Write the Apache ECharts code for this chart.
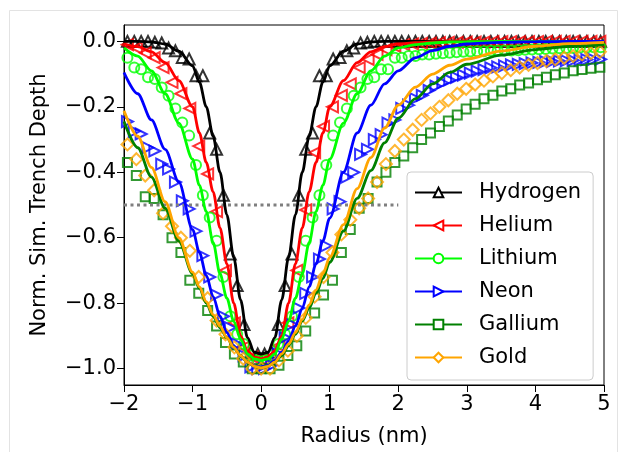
<!DOCTYPE html>
<html>
<head>
<meta charset="utf-8">
<script src="https://cdn.jsdelivr.net/npm/echarts@6/dist/echarts.min.js"></script>
<style>
html, body { margin: 0; padding: 0; background: #fff; }
#chart { width: 618px; height: 452px; }
</style>
</head>
<body>
<div id="chart"></div>
<script>
const NAMES  = ['Hydrogen', 'Helium', 'Lithium', 'Neon', 'Gallium', 'Gold'];
const COLORS = ['#000000', '#ff0000', '#00ff00', '#0000ff', '#008000', '#ffa500'];

// fitted curves, sampled at FIT_X
const FIT_X = [-2, -1.8, -1.6, -1.4, -1.2, -1.0, -0.9, -0.8, -0.7, -0.6, -0.5, -0.4, -0.3, -0.2, -0.1, 0,
  0.1, 0.2, 0.3, 0.4, 0.5, 0.6, 0.7, 0.8, 0.9, 1.0, 1.2, 1.4, 1.6, 1.8, 2.0, 2.25, 2.5, 2.75, 3.0, 3.5, 4.0, 4.5, 5.0];
const H_FIT  = [0, 0, -0.002, -0.008, -0.03, -0.075, -0.125, -0.2, -0.29, -0.4, -0.53, -0.66, -0.79, -0.905, -0.95, -0.955,
  -0.95, -0.905, -0.79, -0.66, -0.53, -0.4, -0.29, -0.2, -0.125, -0.075, -0.03, -0.008, -0.002, 0, 0, 0, 0, 0, 0, 0, 0, 0, 0];
const HE_FIT = [-0.008, -0.016, -0.032, -0.065, -0.12, -0.2, -0.28, -0.37, -0.46, -0.57, -0.68, -0.8, -0.9, -0.945, -0.965, -0.97,
  -0.965, -0.945, -0.9, -0.8, -0.68, -0.57, -0.46, -0.37, -0.28, -0.2, -0.12, -0.065, -0.032, -0.016, -0.008, -0.004, -0.002, -0.001, -0.001, 0, 0, 0, 0];
const LI_FIT = [-0.02, -0.045, -0.09, -0.16, -0.25, -0.36, -0.44, -0.52, -0.615, -0.71, -0.785, -0.855, -0.91, -0.955, -0.97, -0.975,
  -0.97, -0.955, -0.91, -0.855, -0.785, -0.71, -0.615, -0.52, -0.44, -0.36, -0.25, -0.16, -0.09, -0.045, -0.02, -0.01, -0.005, -0.002, -0.001, 0, 0, 0, 0];
const NE_FIT = [-0.095, -0.16, -0.24, -0.33, -0.43, -0.575, -0.645, -0.715, -0.78, -0.84, -0.89, -0.93, -0.96, -0.98, -0.992, -0.995,
  -0.99, -0.975, -0.95, -0.915, -0.87, -0.815, -0.75, -0.68, -0.61, -0.54, -0.4, -0.28, -0.195, -0.13, -0.09, -0.05, -0.028, -0.015, -0.008, -0.003, -0.001, 0, 0];
const GA_FIT = [-0.245, -0.325, -0.415, -0.51, -0.61, -0.71, -0.755, -0.8, -0.84, -0.875, -0.905, -0.935, -0.96, -0.98, -0.993, -0.998,
  -0.993, -0.98, -0.96, -0.93, -0.895, -0.855, -0.815, -0.77, -0.725, -0.675, -0.58, -0.48, -0.395, -0.31, -0.235, -0.175, -0.13, -0.095, -0.07, -0.042, -0.025, -0.015, -0.01];
const AU_FIT = [-0.212, -0.29, -0.385, -0.49, -0.6, -0.705, -0.75, -0.795, -0.835, -0.87, -0.905, -0.935, -0.96, -0.98, -0.993, -0.998,
  -0.993, -0.98, -0.955, -0.925, -0.89, -0.85, -0.805, -0.76, -0.71, -0.66, -0.56, -0.45, -0.355, -0.265, -0.195, -0.14, -0.1, -0.073, -0.054, -0.03, -0.015, -0.007, -0.003];

// simulated points: two radial grids
const X_FINE = [-1.95, -1.85, -1.75, -1.65, -1.55, -1.45, -1.35, -1.25, -1.15, -1.05, -0.95, -0.85, -0.75, -0.65, -0.55, -0.45, -0.35, -0.25, -0.15, -0.05,
  0.05, 0.15, 0.25, 0.35, 0.45, 0.55, 0.65, 0.75, 0.85, 0.95, 1.05, 1.15, 1.25, 1.35, 1.45, 1.55, 1.65, 1.75, 1.85, 1.95,
  2.05, 2.15, 2.25, 2.35, 2.45, 2.55, 2.65, 2.75, 2.85, 2.95, 3.05, 3.15, 3.25, 3.35, 3.45, 3.55, 3.65, 3.75, 3.85, 3.95,
  4.05, 4.15, 4.25, 4.35, 4.45, 4.55, 4.65, 4.75, 4.85, 4.95];
const X_COARSE = [-1.95, -1.82, -1.69, -1.56, -1.43, -1.3, -1.17, -1.04, -0.91, -0.78, -0.65, -0.52, -0.39, -0.26, -0.13, 0,
  0.13, 0.26, 0.39, 0.52, 0.65, 0.78, 0.91, 1.04, 1.17, 1.3, 1.43, 1.56, 1.69, 1.82, 1.95, 2.08, 2.21, 2.34, 2.47, 2.6,
  2.73, 2.86, 2.99, 3.12, 3.25, 3.38, 3.51, 3.64, 3.77, 3.9, 4.03, 4.16, 4.29, 4.42, 4.55, 4.68, 4.81, 4.94];

const H_PTS = [0, 0, 0, 0, -0.003, -0.005, -0.02, -0.029, -0.049, -0.054, -0.105, -0.105, -0.28, -0.33, -0.47, -0.65, -0.746, -0.865, -0.95, -0.955,
  -0.955, -0.95, -0.865, -0.746, -0.65, -0.47, -0.33, -0.28, -0.105, -0.105, -0.054, -0.049, -0.029, -0.02, -0.005, -0.003, 0, 0, 0, 0,
  0, 0, 0, 0, 0, 0, 0, 0, 0, 0, 0, 0, 0, 0, 0, 0, 0, 0, 0, 0,
  0, 0, 0, 0, 0, 0, 0, 0, 0, 0];
const HE_PTS = [-0.01, -0.02, -0.035, -0.05, -0.08, -0.125, -0.16, -0.205, -0.32, -0.405, -0.52, -0.7, -0.86, -0.935, -0.965, -0.97,
  -0.965, -0.93, -0.86, -0.7, -0.515, -0.34, -0.26, -0.2, -0.165, -0.13, -0.08, -0.055, -0.04, -0.025, -0.015, -0.01, -0.008, -0.006, -0.005, -0.004,
  -0.003, -0.003, -0.002, -0.002, -0.002, -0.001, -0.001, -0.001, -0.001, -0.001, -0.001, 0, 0, 0, 0, 0, 0, 0];
const LI_PTS = [-0.05, -0.08, -0.085, -0.11, -0.115, -0.141, -0.166, -0.205, -0.248, -0.288, -0.378, -0.47, -0.538, -0.609, -0.72, -0.84, -0.895, -0.925, -0.96, -0.975,
  -0.975, -0.96, -0.925, -0.895, -0.84, -0.72, -0.609, -0.538, -0.47, -0.378, -0.288, -0.248, -0.205, -0.166, -0.141, -0.115, -0.11, -0.085, -0.085, -0.05,
  -0.05, -0.045, -0.045, -0.04, -0.04, -0.038, -0.036, -0.035, -0.033, -0.032, -0.031, -0.03, -0.03, -0.029, -0.029, -0.028, -0.028, -0.027, -0.026, -0.025,
  -0.024, -0.023, -0.022, -0.021, -0.02, -0.02, -0.019, -0.019, -0.018, -0.018];
const NE_PTS = [-0.245, -0.275, -0.283, -0.325, -0.335, -0.375, -0.39, -0.43, -0.487, -0.512, -0.58, -0.655, -0.72, -0.775, -0.84, -0.875, -0.925, -0.96, -0.995, -1.0,
  -1.0, -0.99, -0.955, -0.905, -0.865, -0.815, -0.77, -0.72, -0.665, -0.625, -0.512, -0.49, -0.415, -0.4, -0.345, -0.33, -0.3, -0.285, -0.25, -0.24,
  -0.205, -0.195, -0.175, -0.165, -0.15, -0.137, -0.127, -0.118, -0.11, -0.103, -0.097, -0.091, -0.086, -0.081, -0.078, -0.075, -0.072, -0.07, -0.068, -0.066,
  -0.064, -0.062, -0.061, -0.06, -0.059, -0.058, -0.057, -0.056, -0.055, -0.055];
const GA_PTS = [-0.37, -0.41, -0.475, -0.48, -0.53, -0.6, -0.645, -0.73, -0.77, -0.822, -0.87, -0.92, -0.955, -0.98, -1.0, -1.0,
  -1.0, -0.99, -0.96, -0.93, -0.885, -0.83, -0.775, -0.73, -0.645, -0.575, -0.51, -0.48, -0.43, -0.4, -0.37, -0.35, -0.325, -0.3, -0.28, -0.26,
  -0.243, -0.225, -0.207, -0.192, -0.175, -0.165, -0.152, -0.145, -0.133, -0.127, -0.117, -0.11, -0.102, -0.097, -0.09, -0.086, -0.082, -0.079];
const AU_PTS = [-0.315, -0.36, -0.41, -0.455, -0.525, -0.565, -0.6, -0.64, -0.72, -0.785, -0.853, -0.895, -0.935, -0.97, -1.0, -1.0,
  -1.0, -0.975, -0.945, -0.9, -0.845, -0.78, -0.72, -0.645, -0.59, -0.545, -0.51, -0.48, -0.43, -0.375, -0.335, -0.3, -0.27, -0.24, -0.22, -0.2,
  -0.18, -0.16, -0.145, -0.132, -0.12, -0.107, -0.097, -0.088, -0.08, -0.072, -0.066, -0.06, -0.055, -0.05, -0.045, -0.04, -0.036, -0.032];

const HALF_DEPTH = -0.5;
const Y_TICKS = [-1.0, -0.8, -0.6, -0.4, -0.2, 0.0];

const FITS = [H_FIT, HE_FIT, LI_FIT, NE_FIT, GA_FIT, AU_FIT];
const PTS = [H_PTS, HE_PTS, LI_PTS, NE_PTS, GA_PTS, AU_PTS];
const PTS_X = [X_FINE, X_COARSE, X_FINE, X_FINE, X_COARSE, X_COARSE];

const MARKERS = [
  { symbol: 'triangle', legend: 'emptyTriangle', rotate: 0, size: 11 },
  { symbol: 'triangle', legend: 'emptyTriangle', rotate: 90, size: 11 },
  { symbol: 'circle', legend: 'emptyCircle', rotate: 0, size: 10 },
  { symbol: 'triangle', legend: 'emptyTriangle', rotate: -90, size: 11 },
  { symbol: 'rect', legend: 'emptyRect', rotate: 0, size: 9 },
  { symbol: 'diamond', legend: 'emptyDiamond', rotate: 0, size: 12 },
];

const FONT = 'DejaVu Sans';
const zip = (xs, ys) => xs.map((x, i) => [x, ys[i]]);
const minus = s => s.replace('-', '\u2212');

const series = [{
  type: 'line',
  data: [[-2, HALF_DEPTH], [2, HALF_DEPTH]],
  symbol: 'none',
  silent: true,
  lineStyle: { color: '#7f7f7f', width: 3, type: [3, 3.5] },
}];

NAMES.forEach((name, i) => {
  const m = MARKERS[i];
  series.push({
    name,
    type: 'line',
    data: zip(FIT_X, FITS[i]),
    smooth: 0.3,
    smoothMonotone: 'x',
    showSymbol: false,
    symbol: m.legend,
    symbolRotate: m.rotate,
    symbolSize: 9,
    itemStyle: { color: COLORS[i] },
    lineStyle: { color: COLORS[i], width: 2.8 },
  });
  series.push({
    name,
    type: 'scatter',
    data: zip(PTS_X[i], PTS[i]),
    symbol: m.symbol,
    symbolRotate: m.rotate,
    symbolSize: m.size,
    itemStyle: { color: 'rgba(0,0,0,0)', borderColor: COLORS[i], borderWidth: 2 },
  });
});

const chart = echarts.init(document.getElementById('chart'));
chart.setOption({
  animation: false,
  backgroundColor: '#fff',
  textStyle: { fontFamily: FONT },
  graphic: [{
    type: 'rect',
    shape: { x: 9.5, y: 10.5, width: 608, height: 460 },
    style: { fill: 'none', stroke: '#e3e3e3', lineWidth: 1 },
    silent: true,
    z: -10,
  }],
  grid: { left: 124, top: 25, width: 480, height: 360, show: true, borderColor: '#000', borderWidth: 1 },
  legend: {
    data: NAMES,
    orient: 'vertical',
    left: 407,
    top: 172,
    padding: [10, 12, 12, 7],
    itemWidth: 47,
    itemHeight: 12,
    itemGap: 12,
    backgroundColor: 'rgba(255,255,255,0.8)',
    borderColor: '#cccccc',
    borderWidth: 1,
    borderRadius: 4,
    selectedMode: false,
    textStyle: { fontFamily: FONT, fontSize: 21, lineHeight: 20, color: '#000', padding: [0, 0, 0, 12] },
  },
  xAxis: {
    type: 'value',
    min: -2,
    max: 5,
    interval: 1,
    name: 'Radius (nm)',
    nameLocation: 'middle',
    nameGap: 41,
    nameTextStyle: { fontFamily: FONT, fontSize: 21, color: '#000' },
    axisLine: { show: true, onZero: false, lineStyle: { color: '#000', width: 1 } },
    axisTick: { show: true, length: 7, lineStyle: { color: '#000' } },
    axisLabel: { fontFamily: FONT, fontSize: 21, color: '#000', margin: 9, formatter: v => minus(String(v)) },
    splitLine: { show: false },
  },
  yAxis: {
    type: 'value',
    min: -1.05,
    max: 0.05,
    name: 'Norm. Sim. Trench Depth',
    nameLocation: 'middle',
    nameGap: 74,
    nameTextStyle: { fontFamily: FONT, fontSize: 21, color: '#000' },
    axisLine: { show: true, onZero: false, lineStyle: { color: '#000', width: 1 } },
    axisTick: { show: true, length: 7, customValues: Y_TICKS, lineStyle: { color: '#000' } },
    axisLabel: { fontFamily: FONT, fontSize: 21, color: '#000', margin: 8, customValues: Y_TICKS, formatter: v => minus(v.toFixed(1)) },
    splitLine: { show: false },
  },
  series,
});
</script>
</body>
</html>
